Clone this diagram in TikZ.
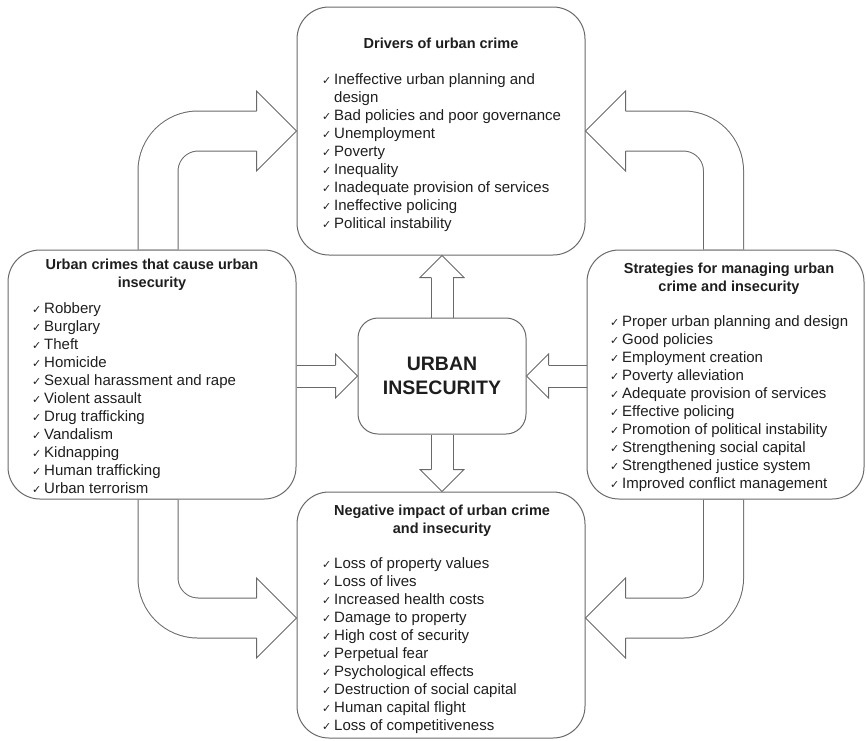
\documentclass[tikz,border=0pt]{standalone}
\usepackage{fontspec}
\setmainfont{Liberation Sans}
\newfontfamily\tickfont{DejaVu Sans}
\usetikzlibrary{backgrounds}
\definecolor{linegray}{RGB}{105,105,105}
\definecolor{inkgray}{RGB}{30,30,30}
\newcommand{\ckmark}{{\tickfont\fontsize{11}{11}\selectfont ✓}}
\begin{document}
\begin{tikzpicture}
    [
    x=1pt, y=1pt,
    panel/.style={draw=linegray,line width=1pt,rounded corners=32pt,inner sep=0pt},
    core/.style={draw=linegray,line width=1pt,rounded corners=20pt,minimum width=168pt,minimum height=116pt,align=center,text=inkgray,font=\bfseries\fontsize{19.5}{24}\selectfont},
    heading/.style={inner sep=0pt,text=inkgray,font=\bfseries\fontsize{14.5}{18}\selectfont},
    listtext/.style={inner sep=0pt,text=inkgray,font=\fontsize{15}{18}\selectfont},
    outline/.style={draw=linegray,line width=1pt},
    bigshaft/.style={outline,double=white,double distance=39pt,rounded corners=40pt},
    smallshaft/.style={outline,double=white,double distance=21pt},
    pics/bighead/.style={code={
      \fill[white] (-40,40) -- (0,0) -- (-40,-40) -- cycle;
      \draw[outline] (-40,20) -- (-40,40) -- (0,0) -- (-40,-40) -- (-40,-20);}},
    pics/smallhead/.style={code={
      \fill[white] (-22,22) -- (0,0) -- (-22,-22) -- cycle;
      \draw[outline] (-22,11) -- (-22,22) -- (0,0) -- (-22,-22) -- (-22,-11);}}
    ]
    \useasboundingbox (0,0) rectangle (866,-740);
    \node (drivers) at (441,-131) [panel,minimum width=288pt,minimum height=248pt] {};
    \node (crimes) at (152,-374.5) [panel,minimum width=288pt,minimum height=249pt] {};
    \node (strategies) at (725.5,-374.5) [panel,minimum width=277pt,minimum height=249pt] {};
    \node (impact) at (441,-615) [panel,minimum width=288pt,minimum height=246pt] {};
    \node (centre) at (442,-376) [core] {URBAN\\INSECURITY};
    \node (drivers-title) at (441,-48) [heading,anchor=base] {Drivers of urban crime};
    \node (drivers-list) at (322,-84) [listtext,anchor=base west] {\begin{tabular}[t]{@{}p{12pt}@{}l@{}}
      \ckmark & Ineffective urban planning and\\
       & design\\
      \ckmark & Bad policies and poor governance\\
      \ckmark & Unemployment\\
      \ckmark & Poverty\\
      \ckmark & Inequality\\
      \ckmark & Inadequate provision of services\\
      \ckmark & Ineffective policing\\
      \ckmark & Political instability
    \end{tabular}};
    \node (crimes-title) at (152,-269) [heading,anchor=base] {\begin{tabular}[t]{@{}c@{}}Urban crimes that cause urban\\insecurity\end{tabular}};
    \node (crimes-list) at (32,-313) [listtext,anchor=base west] {\begin{tabular}[t]{@{}p{12pt}@{}l@{}}
      \ckmark & Robbery\\
      \ckmark & Burglary\\
      \ckmark & Theft\\
      \ckmark & Homicide\\
      \ckmark & Sexual harassment and rape\\
      \ckmark & Violent assault\\
      \ckmark & Drug trafficking\\
      \ckmark & Vandalism\\
      \ckmark & Kidnapping\\
      \ckmark & Human trafficking\\
      \ckmark & Urban terrorism
    \end{tabular}};
    \node (strategies-title) at (729,-273) [heading,anchor=base] {\begin{tabular}[t]{@{}c@{}}Strategies for managing urban\\crime and insecurity\end{tabular}};
    \node (strategies-list) at (610,-326) [listtext,anchor=base west] {\begin{tabular}[t]{@{}p{12pt}@{}l@{}}
      \ckmark & Proper urban planning and design\\
      \ckmark & Good policies\\
      \ckmark & Employment creation\\
      \ckmark & Poverty alleviation\\
      \ckmark & Adequate provision of services\\
      \ckmark & Effective policing\\
      \ckmark & Promotion of political instability\\
      \ckmark & Strengthening social capital\\
      \ckmark & Strengthened justice system\\
      \ckmark & Improved conflict management
    \end{tabular}};
    \node (impact-title) at (442,-515) [heading,anchor=base] {\begin{tabular}[t]{@{}c@{}}Negative impact of urban crime\\and insecurity\end{tabular}};
    \node (impact-list) at (322,-568) [listtext,anchor=base west] {\begin{tabular}[t]{@{}p{12pt}@{}l@{}}
      \ckmark & Loss of property values\\
      \ckmark & Loss of lives\\
      \ckmark & Increased health costs\\
      \ckmark & Damage to property\\
      \ckmark & High cost of security\\
      \ckmark & Perpetual fear\\
      \ckmark & Psychological effects\\
      \ckmark & Destruction of social capital\\
      \ckmark & Human capital flight\\
      \ckmark & Loss of competitiveness
    \end{tabular}};
    \begin{scope}[on background layer]
    \draw [smallshaft] (centre.north) -- ([yshift=-21pt]centre.north |- drivers.south);
    \pic [rotate=90] at (centre.north |- drivers.south) {smallhead};
    \draw [smallshaft] (centre.south) -- ([yshift=21pt]centre.south |- impact.north);
    \pic [rotate=-90] at (centre.south |- impact.north) {smallhead};
    \draw [smallshaft] (crimes.east |- centre.west) -- ([xshift=-21pt]centre.west);
    \pic at (centre.west) {smallhead};
    \draw [smallshaft] (strategies.west |- centre.east) -- ([xshift=21pt]centre.east);
    \pic [rotate=180] at (centre.east) {smallhead};
    \draw [bigshaft] ([xshift=6pt]crimes.north) |- ([xshift=-39pt]drivers.west);
    \pic at (drivers.west) {bighead};
    \draw [bigshaft] ([xshift=-2pt]strategies.north) |- ([xshift=39pt]drivers.east);
    \pic [rotate=180] at (drivers.east) {bighead};
    \draw [bigshaft] ([xshift=6pt]crimes.south) |- ([shift={(-39pt,-3pt)}]impact.west);
    \pic at ([yshift=-3pt]impact.west) {bighead};
    \draw [bigshaft] ([xshift=-2pt]strategies.south) |- ([shift={(39pt,-3pt)}]impact.east);
    \pic [rotate=180] at ([yshift=-3pt]impact.east) {bighead};
    \end{scope}
\end{tikzpicture}
\end{document}
